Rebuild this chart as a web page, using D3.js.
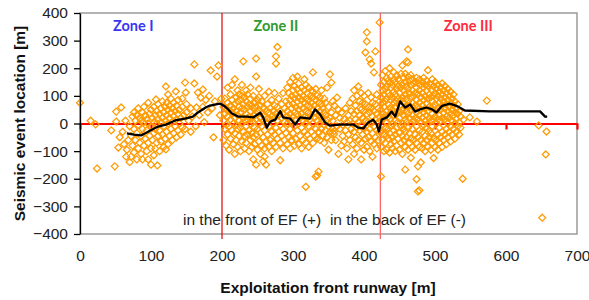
<!DOCTYPE html>
<html>
<head>
<meta charset="utf-8">
<script src="https://cdn.jsdelivr.net/npm/d3@7"></script>
<style>
  body { margin: 0; background: #fff; }
  svg text { font-family: "Liberation Sans", Arial, sans-serif; }
</style>
</head>
<body>
<svg id="chart" width="589" height="300"></svg>
<script>
// scatter, stored as columns: [x, [y, y, ...]]
var zone1Cols = [
  [0,[75]],[15,[10]],[22,[-3]],[24,[-163]],[44,[-25]],[49,[-155]],[51,[7,43]],[54,[-87]],
  [56,[-50]],[58,[58]],[60,[-30]],[62,[-75]],[64,[10]],[65,[-120]],[66,[-95]],[68,[-60]],
  [70,[-10,-140]],[72,[-120,-45]],[74,[-80,25]],[76,[-105,-20,40]],[78,[-60,10]],
  [80,[-130,-35,30]],[82,[-90,-5,55]],[84,[-70,20]],[86,[-110,-45,10]],[88,[-130,-20,40]],
  [90,[-80,5,60]],[92,[-55,30]],[94,[-100,-25,15]],[96,[-130,-70,0,75]],[98,[-45,35]],
  [100,[-149,-90,-10,50]],[102,[-60,20]],[104,[-115,-35,5,60]],[106,[-91,-20,30]],[107,[87]],
  [108,[-70,0,45]],[109,[-152]],[110,[-45,15,70]],[112,[-100,-25,35]],[114,[-65,5,55]],
  [116,[-40,20,80]],[118,[-85,-10,40]],[120,[-55,10,60]],[121,[-94,134]],[122,[-30,30,75]],
  [124,[-75,0,50,105]],[126,[-45,20,65]],[128,[-20,40,90]],[130,[-60,5,55]],[132,[-35,25,75]],
  [134,[-10,45]],[135,[116]],[136,[-50,15,65]],[138,[-25,35,85]],[140,[0,50]],[142,[-40,20]],
  [144,[-15,60,90]],[146,[30]],[148,[-20,148]],[149,[112]],[150,[40,70]],[153,[10]],
  [156,[-30,55]],[158,[25]],[161,[145,214]],[163,[-10]],[164,[58]],[166,[112]],[168,[30]],
  [170,[94]],[173,[123,60]],[175,[5]],[177,[85]],[180,[40]],[182,[100]],[184,[192]],
  [186,[55]],[188,[-50]],[190,[80]],[193,[170]],[195,[210]],[197,[30]],[199,[90]]
];
var zone2Cols = [
  [202,[-60,10,60]],[204,[-20,35,90]],[206,[-80,-5,50]],[208,[-40,25,75,130]],[210,[-95,-10,45]],
  [212,[-55,15,65,105]],[214,[-25,40,85,140]],[216,[-75,0,55]],[218,[-110,-35,20,70,160]],
  [220,[-60,-5,45,95]],[222,[-85,-20,30,80,120]],[224,[-45,10,60,105]],[226,[-100,-15,40,85]],
  [228,[-65,0,55,100,140]],[230,[-30,20,70,225]],[232,[-90,-45,10,50,95]],[234,[-70,-10,35,80,120]],
  [236,[-40,15,60,105]],[238,[-100,-25,25,70]],[240,[-60,0,45,90,130]],[242,[-85,-35,20,65]],
  [244,[-130,-50,5,55,100]],[246,[-75,-15,30,75]],[248,[-149,-40,15,60,170,235]],[250,[-95,-20,40,85]],
  [252,[-65,0,50,95,125]],[254,[-110,-35,20,65]],[256,[-80,-10,35,80]],[258,[-137,-50,10,55]],
  [260,[-120,-90,-25,30,100]],[262,[-149,-65,5,45]],[264,[-40,20,70]],[266,[-85,-10,40,115]],
  [268,[-60,15,55]],[270,[-100,-30,25,85]],[272,[-70,0,45]],[274,[-40,20,65,110]],
  [276,[-85,-15,35,217,243]],[278,[-55,10,60,277]],[280,[-30,30,90]],[282,[-133,-70,-5,45]],
  [284,[-45,20,70]],[286,[-90,-20,35,110]],[288,[-60,5,55]],[290,[-35,25,80]],[292,[-75,0,45,130]],
  [294,[-50,20,70,110]],[296,[-90,-20,35,85,150]],[298,[-60,5,55,100]],[300,[-35,25,70,120,165]],
  [302,[-80,-10,40,90,135]],[304,[-55,15,60,105]],[306,[-25,35,80,125,170]],[308,[-75,0,50,95,145]],
  [310,[-45,20,65,110]],[312,[-90,-15,35,85,130]],[314,[-60,10,55,100]],[316,[-30,25,75,120,160]],
  [318,[-229,-70,0,45,90,140]],[320,[-40,20,65,110]],[322,[-85,-10,40,85,130]],[324,[-55,15,60,100]],
  [326,[-30,30,75,120]],[328,[-70,0,50,95,115,185]],[330,[-45,20,65]],[332,[-192,-20,40,85,125]],
  [334,[-188,-55,10,55,100]],[336,[-174,-30,30,75]],[338,[-60,0,45,95]],[340,[-20,25,70,120]],
  [342,[-45,10,55]],[344,[-70,-5,40,90]],[346,[-25,30,75]],[348,[-50,15,130]],[350,[-95,-10,60]],
  [352,[-30,20,178]],[354,[-60,40,148]],[356,[-33,-20,10,80]],[358,[-38,-28,65]],[360,[-60,30]],
  [362,[-10,94]],[364,[-110,50]],[366,[-20,20]],[368,[-80,40]],[370,[-45,-5]],[372,[-65,15]],
  [374,[-25,55]],[376,[-90,5]],[378,[-130,-40,30]],[380,[-60,10,75]],[382,[-20,45]],
  [384,[-75,0,90]],[386,[-110,-30,35,120]],[388,[-50,15,65]],[390,[-90,-15,45,100]],
  [392,[-60,5,134]],[394,[-25,30,80]],[396,[-130,-70,-5,50,110]],[398,[-40,20,75]],
  [400,[-95,-20,45,100]],[402,[-55,10,70,257]],[404,[-85,-30,35,297,330]],[406,[-50,5,60,110]],
  [408,[-100,-20,40,232]],[410,[-65,0,55,95,217]],[412,[-120,-35,25,75]],[414,[-75,-10,45,185]],
  [416,[-50,15,70,261]],[418,[-90,-25,35,105]],[420,[-60,5,55]],[422,[-30,25,80,366]]
];
var zone3Cols = [
  [424,[-192,-85,-30,10,50,95,140]],[426,[-60,-5,35,75,120,175]],[428,[-100,-40,20,60,105,150]],
  [430,[-70,-15,30,80,125,190]],[432,[-95,-45,5,45,90,135,165]],[434,[-55,-20,25,70,110,155]],
  [436,[-105,-35,15,55,100,145,200]],[438,[-75,-10,40,85,130,170]],[440,[-90,-50,0,50,95,140]],
  [442,[-65,-25,30,75,115,160,185]],[444,[-100,-40,10,60,105,150]],[446,[-80,-15,35,80,125,175]],
  [448,[-55,5,45,90,135,160]],[450,[-95,-35,20,65,110,155]],[452,[-70,-10,40,85,130,180]],
  [454,[-110,-45,0,50,95,140,210]],[456,[-60,-20,30,75,120,165]],[458,[-167,-85,-30,15,60,105,150,180]],
  [460,[-50,5,45,90,135,225]],[462,[-95,-15,35,80,125,170,221,268]],[464,[-70,-35,20,65,110,155]],
  [466,[-124,-55,0,50,95,140,175]],[468,[-85,-20,30,75,120,160]],[470,[-60,10,55,100,145]],
  [472,[-95,-40,20,65,110,150]],[474,[-202,-70,-10,40,85,130,165]],[476,[-246,-155,-50,15,60,105,145]],
  [478,[-242,-85,-25,30,75,120,160]],[480,[-141,-60,5,50,95,140]],[482,[-90,-30,20,65,110,150]],
  [484,[-70,-5,40,85,130,165]],[486,[-100,-45,10,55,100,140]],[488,[-60,-15,30,75,120,155]],
  [490,[-85,0,45,90,135,193]],[492,[-50,-25,20,60,105,145]],[494,[-95,-35,10,55,95,140]],
  [496,[-70,-10,35,80,120,160]],[498,[-125,-55,15,60,100,135]],[500,[-85,-25,25,70,110,150]],
  [502,[-60,0,45,90,125]],[504,[-95,-40,15,55,100,140]],[506,[-70,-15,30,75,115]],
  [508,[-50,10,50,90,130]],[510,[-85,-30,20,65,105,145]],[512,[-60,-5,40,80,120]],
  [514,[-40,15,55,95,135]],[516,[-75,-20,25,70,110]],[518,[-50,0,45,85,125]],[520,[-30,20,60,100]],
  [522,[-65,-10,35,75,115]],[524,[-40,10,50,90]],[526,[-20,30,65,105]],[528,[-55,0,40,80]],
  [530,[-30,15,55]],[532,[-10,35,70]],[534,[-40,5,45]],[536,[-15,25]],
  [539,[-200]],[540,[14]],[549,[22]],[559,[7]],[573,[83]],[646,[-7]],[651,[-341]],[656,[-112]],[657,[-29]]
];

// black running-average line
var avgLine = [
  [66,-36],[76,-40],[86,-43],[92,-35],[99,-25],[110,-11],[121,-4],[134,11],[148,18],[159,25],
  [166,40],[177,58],[183,65],[197,72],[204,62],[209,50],[214,36],[223,25],[235,25],[244,22],
  [254,39],[258,22],[263,-15],[268,7],[275,14],[282,45],[286,22],[296,18],[303,-4],[310,22],
  [324,18],[331,51],[338,33],[345,4],[352,-8],[366,-4],[385,-4],[392,-15],[399,-18],[406,4],
  [413,14],[418,-4],[421,-29],[425,14],[432,22],[439,43],[444,25],[451,80],[458,58],[465,69],
  [472,43],[479,51],[488,58],[496,51],[502,40],[510,64],[521,72],[532,62],[542,47],[577,44],
  [648,44],[655,25],[658,25]
];

var zoneBounds = [200, 423];
var zoneNames = ["Zone I", "Zone II", "Zone III"];
var zoneCenters = [75, 276, 547];
var xTicks = [0, 100, 200, 300, 400, 500, 600, 700];
var yTicks = [-400, -300, -200, -100, 0, 100, 200, 300, 400];

var svg = d3.select("#chart");
var x = d3.scaleLinear().domain([0, 700]).range([80, 577]);
var y = d3.scaleLinear().domain([-400, 400]).range([234, 13]);

var points = [];
[zone1Cols, zone2Cols, zone3Cols].forEach(function(cols) {
    cols.forEach(function(c) {
        c[1].forEach(function(v) { points.push([c[0], v]); });
    });
});

// plot frame
svg.append("rect")
    .attr("x", x(0)).attr("y", y(400))
    .attr("width", x(700) - x(0)).attr("height", y(-400) - y(400))
    .attr("fill", "none").attr("stroke", "#8c8c8c").attr("stroke-width", 1.3);

// red x axis at y = 0
var xAxis = svg.append("g")
    .attr("transform", "translate(0," + y(0) + ")")
    .call(d3.axisBottom(x).tickValues(xTicks).tickSize(6).tickSizeOuter(0).tickFormat(""));
xAxis.selectAll("path, line").attr("stroke", "#ff0000").attr("stroke-width", 2.2);

// zone boundaries
svg.selectAll(".zoneline")
    .data(zoneBounds)
    .enter().append("line")
    .attr("class", "zoneline")
    .attr("x1", d => x(d)).attr("x2", d => x(d))
    .attr("y1", y(400)).attr("y2", y(-400) + 5)
    .attr("stroke", (d, i) => i == 0 ? "#e00000" : "#ff5a5a")
    .attr("stroke-width", 1.2);

// scatter diamonds
svg.append("g").selectAll("path")
    .data(points)
    .enter().append("path")
    .attr("transform", d => "translate(" + x(d[0]) + "," + y(d[1]) + ")")
    .attr("d", "M0,-3.5L3.5,0L0,3.5L-3.5,0Z")
    .attr("fill", "none")
    .attr("stroke", "#ff9a00")
    .attr("stroke-width", 1.25);

// running average
svg.append("path")
    .datum(avgLine)
    .attr("d", d3.line().x(d => x(d[0])).y(d => y(d[1])))
    .attr("fill", "none")
    .attr("stroke", "#000")
    .attr("stroke-width", 2.3)
    .attr("stroke-linejoin", "round");

// y axis
var yAxis = svg.append("g")
    .attr("transform", "translate(" + x(0) + ",0)")
    .call(d3.axisLeft(y).tickValues(yTicks).tickSize(6).tickSizeOuter(0).tickPadding(6));
yAxis.selectAll("path, line").attr("stroke", "#000").attr("stroke-width", 1.3);
yAxis.selectAll("text")
    .style("font-family", "'Liberation Sans', Arial, sans-serif")
    .style("font-size", "15.5px").attr("fill", "#222");

// x tick labels at the bottom
var xLab = svg.append("g")
    .attr("transform", "translate(0,250)")
    .call(d3.axisBottom(x).tickValues(xTicks).tickSize(0).tickPadding(0));
xLab.select(".domain").remove();
xLab.selectAll("text")
    .style("font-family", "'Liberation Sans', Arial, sans-serif")
    .style("font-size", "15.5px").attr("fill", "#222");

// zone labels
svg.selectAll(".zonelabel")
    .data(zoneNames)
    .enter().append("text")
    .attr("class", "zonelabel")
    .attr("x", (d, i) => x(zoneCenters[i]))
    .attr("y", 31)
    .attr("text-anchor", "middle")
    .style("font-family", "Lato, sans-serif")
    .style("font-weight", "bold")
    .style("font-size", "14.5px")
    .attr("fill", (d, i) => ["#3a35f5", "#2f9a2f", "#ff2b3c"][i])
    .text(d => d);

svg.append("text")
    .attr("x", 183).attr("y", 225)
    .style("font-size", "15.5px").attr("fill", "#222")
    .attr("xml:space", "preserve")
    .text("in the front of EF (+)  in the back of EF (-)");

svg.append("text")
    .attr("transform", "translate(25," + y(0) + ")rotate(-90)")
    .attr("text-anchor", "middle")
    .style("font-size", "15.5px").style("font-weight", "bold").attr("fill", "#111")
    .text("Seismic event location [m]");

svg.append("text")
    .attr("x", 328).attr("y", 293)
    .attr("text-anchor", "middle")
    .style("font-size", "15.5px").style("font-weight", "bold").attr("fill", "#111")
    .text("Exploitation front runway [m]");
</script>
</body>
</html>
